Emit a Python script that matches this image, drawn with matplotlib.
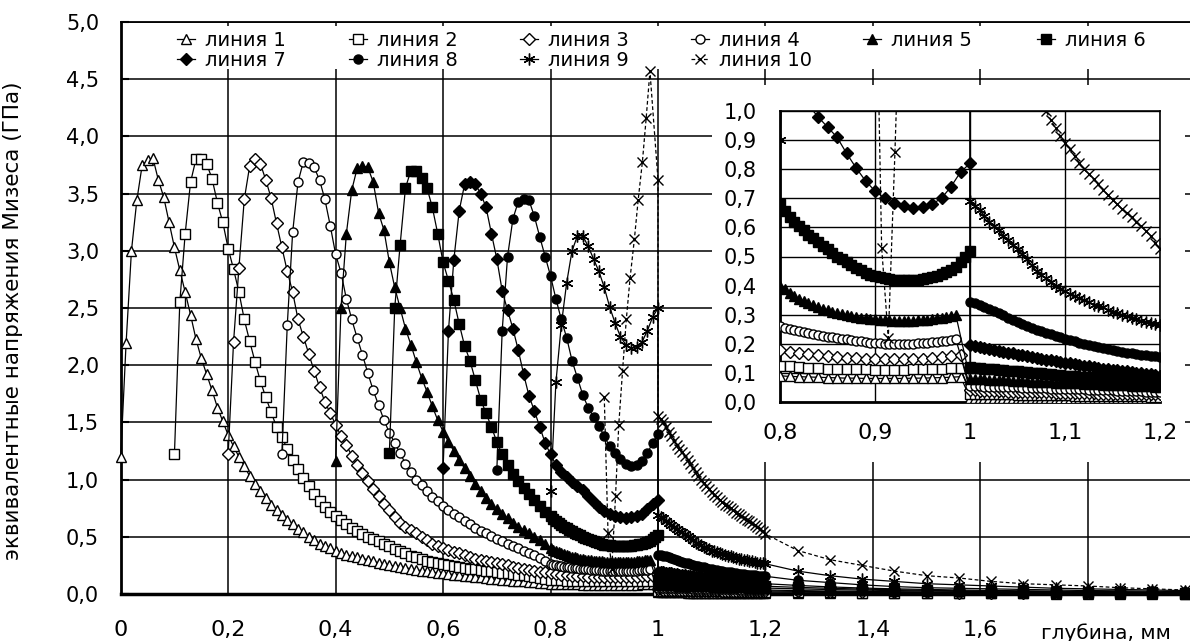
import numpy as np
import matplotlib
matplotlib.use('Agg')
import matplotlib.pyplot as plt
from matplotlib.patches import Rectangle

W, H = 1190, 641

# lines 1..9: first depth of each, then one value every 0.01 mm
starts = [0.0, 0.1, 0.2, 0.3, 0.4, 0.5, 0.6, 0.7, 0.8]

line1 = [1.20, 2.19, 3.00, 3.44, 3.75, 3.79, 3.81, 3.62, 3.47, 3.25,
         3.03, 2.83, 2.64, 2.44, 2.23, 2.06, 1.92, 1.78, 1.63, 1.51,
         1.39, 1.29, 1.20, 1.12, 1.03, 0.96, 0.90, 0.84, 0.78, 0.73,
         0.69, 0.65, 0.61, 0.57, 0.54, 0.50, 0.47, 0.44, 0.42, 0.40,
         0.38, 0.36, 0.345, 0.33, 0.32, 0.31, 0.30, 0.285, 0.27, 0.26,
         0.25, 0.245, 0.24, 0.23, 0.22, 0.21, 0.205, 0.20, 0.19, 0.185,
         0.18, 0.175, 0.17, 0.165, 0.16, 0.155, 0.15, 0.145, 0.14, 0.135,
         0.13, 0.126, 0.122, 0.118, 0.114, 0.11, 0.106, 0.102, 0.098, 0.094,
         0.09, 0.088, 0.087, 0.086, 0.085, 0.084, 0.083, 0.082, 0.082, 0.081,
         0.081, 0.081, 0.081, 0.081, 0.082, 0.082, 0.083, 0.084, 0.085, 0.087]
line2 = [1.22, 2.55, 3.15, 3.60, 3.80, 3.80, 3.76, 3.63, 3.42, 3.25,
         3.02, 2.84, 2.64, 2.40, 2.21, 2.03, 1.86, 1.72, 1.59, 1.46,
         1.37, 1.27, 1.17, 1.09, 1.01, 0.94, 0.87, 0.81, 0.76, 0.72,
         0.68, 0.645, 0.61, 0.58, 0.55, 0.525, 0.50, 0.48, 0.46, 0.44,
         0.42, 0.395, 0.375, 0.355, 0.335, 0.32, 0.305, 0.29, 0.28, 0.27,
         0.26, 0.25, 0.242, 0.235, 0.228, 0.222, 0.216, 0.21, 0.204, 0.198,
         0.192, 0.186, 0.18, 0.174, 0.168, 0.162, 0.156, 0.15, 0.142, 0.134,
         0.125, 0.122, 0.12, 0.118, 0.116, 0.115, 0.114, 0.113, 0.112, 0.112,
         0.111, 0.111, 0.111, 0.111, 0.112, 0.112, 0.113, 0.114, 0.116, 0.118]
line3 = [1.22, 2.20, 2.85, 3.45, 3.74, 3.80, 3.76, 3.62, 3.46, 3.24,
         3.03, 2.82, 2.64, 2.40, 2.25, 2.10, 1.95, 1.81, 1.68, 1.58,
         1.48, 1.38, 1.30, 1.21, 1.13, 1.06, 0.99, 0.92, 0.86, 0.79,
         0.73, 0.67, 0.62, 0.59, 0.56, 0.53, 0.50, 0.47, 0.44, 0.42,
         0.40, 0.385, 0.37, 0.355, 0.34, 0.325, 0.31, 0.30, 0.29, 0.28,
         0.27, 0.26, 0.25, 0.24, 0.23, 0.22, 0.21, 0.203, 0.196, 0.188,
         0.18, 0.173, 0.168, 0.164, 0.16, 0.157, 0.154, 0.152, 0.15, 0.149,
         0.148, 0.147, 0.147, 0.147, 0.148, 0.149, 0.151, 0.154, 0.157, 0.16]
line4 = [1.22, 2.35, 3.16, 3.60, 3.78, 3.77, 3.73, 3.62, 3.45, 3.22,
         2.97, 2.81, 2.58, 2.40, 2.24, 2.09, 1.93, 1.78, 1.65, 1.52,
         1.41, 1.32, 1.23, 1.14, 1.07, 1.00, 0.95, 0.90, 0.85, 0.81,
         0.77, 0.73, 0.70, 0.67, 0.64, 0.61, 0.58, 0.555, 0.53, 0.505,
         0.48, 0.46, 0.44, 0.42, 0.40, 0.38, 0.36, 0.34, 0.315, 0.29,
         0.262]
line5 = [1.16, 2.50, 3.15, 3.53, 3.72, 3.74, 3.73, 3.60, 3.33, 3.18,
         2.90, 2.68, 2.50, 2.32, 2.18, 2.03, 1.89, 1.77, 1.64, 1.52,
         1.42, 1.33, 1.25, 1.17, 1.10, 1.03, 0.96, 0.90, 0.84, 0.79,
         0.74, 0.70, 0.66, 0.62, 0.59, 0.56, 0.53, 0.50, 0.47, 0.44,
         0.40]
line6 = [1.23, 2.50, 3.05, 3.55, 3.70, 3.70, 3.64, 3.55, 3.38, 3.15,
         2.90, 2.74, 2.57, 2.36, 2.17, 2.04, 1.87, 1.70, 1.58, 1.46,
         1.33, 1.22, 1.13, 1.05, 0.99, 0.93, 0.87, 0.82, 0.77, 0.72,
         0.68]
line7 = [1.10, 2.30, 2.92, 3.35, 3.58, 3.60, 3.58, 3.50, 3.38, 3.15,
         2.93, 2.65, 2.48, 2.32, 2.13, 1.92, 1.73, 1.60, 1.46, 1.32,
         1.22, 1.13, 1.07, 1.02, 0.98, 0.945, 0.91, 0.855, 0.805, 0.76,
         0.725, 0.70, 0.685, 0.672, 0.668, 0.67, 0.68, 0.70, 0.74, 0.79,
         0.82]
line8 = [1.08, 2.30, 2.95, 3.28, 3.43, 3.45, 3.44, 3.30, 3.12, 2.95,
         2.78, 2.58, 2.40, 2.24, 2.04, 1.89, 1.74, 1.63, 1.55, 1.47,
         1.38, 1.29, 1.23, 1.18, 1.14, 1.12, 1.13, 1.16, 1.23, 1.32,
         1.40]
line9 = [0.90, 1.85, 2.35, 2.72, 3.00, 3.13, 3.13, 3.04, 2.93, 2.82,
         2.68, 2.51, 2.37, 2.25, 2.18, 2.15, 2.16, 2.20, 2.30, 2.42,
         2.50]

# lines 4-6 are sampled every 0.005 mm after 0.80 mm
line4_fine = [0.256, 0.25, 0.246, 0.243, 0.24, 0.237, 0.234, 0.231, 0.228, 0.225,
              0.222, 0.22, 0.217, 0.215, 0.212, 0.21, 0.208, 0.206, 0.204, 0.203,
              0.202, 0.201, 0.20, 0.20, 0.20, 0.20, 0.20, 0.201, 0.202, 0.203,
              0.204, 0.205, 0.206, 0.208, 0.21, 0.212, 0.215]
line5_fine = [0.387, 0.375, 0.365, 0.355, 0.347, 0.34, 0.332, 0.325, 0.32, 0.315,
              0.31, 0.305, 0.301, 0.298, 0.295, 0.292, 0.29, 0.287, 0.285, 0.284,
              0.283, 0.282, 0.281, 0.28, 0.28, 0.28, 0.28, 0.28, 0.281, 0.282,
              0.283, 0.285, 0.287, 0.29, 0.293, 0.297, 0.30]
line6_fine = [0.655, 0.635, 0.62, 0.605, 0.59, 0.575, 0.562, 0.55, 0.537, 0.525,
              0.512, 0.50, 0.49, 0.48, 0.47, 0.46, 0.452, 0.445, 0.438, 0.432,
              0.428, 0.425, 0.422, 0.42, 0.419, 0.418, 0.418, 0.418, 0.42, 0.422,
              0.425, 0.428, 0.433, 0.44, 0.447, 0.455, 0.465, 0.48, 0.50, 0.52]

line10_x = [0.900, 0.907, 0.914, 0.921, 0.927, 0.934, 0.941, 0.948,
            0.956, 0.963, 0.971, 0.978, 0.985, 1.000]
line10 = [1.72, 0.53, 0.22, 0.86, 1.48, 1.95, 2.40, 2.76,
          3.10, 3.44, 3.78, 4.16, 4.57, 3.62]

# substrate side: every 0.005 mm from 1.00 to 1.20, then every 0.06 mm
tail_dense = np.round(1.0 + 0.005 * np.arange(41), 3)
tail_sparse = np.round(1.26 + 0.06 * np.arange(13), 3)
tail_x = np.concatenate([tail_dense, tail_sparse])

tail1 = [0.015, 0.015, 0.015, 0.015, 0.015, 0.014, 0.014, 0.014, 0.014, 0.014,
         0.014, 0.013, 0.013, 0.013, 0.013, 0.013, 0.013, 0.013, 0.012, 0.012,
         0.012, 0.012, 0.012, 0.012, 0.012, 0.011, 0.011, 0.011, 0.011, 0.011,
         0.011, 0.011, 0.011, 0.010, 0.010, 0.010, 0.010, 0.010, 0.010, 0.010,
         0.010,
         0.009, 0.008, 0.007, 0.007, 0.006, 0.006, 0.005, 0.005, 0.004, 0.004,
         0.004, 0.003, 0.003]
tail2 = [0.028, 0.028, 0.028, 0.027, 0.027, 0.027, 0.027, 0.026, 0.026, 0.026,
         0.025, 0.025, 0.025, 0.025, 0.024, 0.024, 0.024, 0.024, 0.023, 0.023,
         0.023, 0.023, 0.022, 0.022, 0.022, 0.022, 0.021, 0.021, 0.021, 0.021,
         0.020, 0.020, 0.020, 0.020, 0.019, 0.019, 0.019, 0.019, 0.018, 0.018,
         0.018,
         0.016, 0.014, 0.012, 0.011, 0.010, 0.009, 0.008, 0.007, 0.006, 0.006,
         0.005, 0.005, 0.004]
tail3 = [0.040, 0.040, 0.039, 0.039, 0.038, 0.038, 0.037, 0.037, 0.036, 0.036,
         0.036, 0.035, 0.035, 0.034, 0.034, 0.034, 0.033, 0.033, 0.032, 0.032,
         0.032, 0.031, 0.031, 0.031, 0.030, 0.030, 0.030, 0.029, 0.029, 0.029,
         0.029, 0.028, 0.028, 0.028, 0.028, 0.027, 0.027, 0.027, 0.027, 0.027,
         0.027,
         0.023, 0.020, 0.018, 0.016, 0.014, 0.012, 0.011, 0.010, 0.009, 0.008,
         0.007, 0.006, 0.005]
tail4 = [0.055, 0.054, 0.054, 0.053, 0.053, 0.052, 0.052, 0.051, 0.051, 0.050,
         0.050, 0.049, 0.049, 0.048, 0.048, 0.047, 0.047, 0.046, 0.046, 0.045,
         0.045, 0.044, 0.044, 0.043, 0.043, 0.042, 0.042, 0.041, 0.041, 0.040,
         0.040, 0.039, 0.039, 0.038, 0.038, 0.037, 0.037, 0.036, 0.036, 0.035,
         0.035,
         0.030, 0.026, 0.023, 0.020, 0.018, 0.016, 0.014, 0.012, 0.011, 0.010,
         0.009, 0.008, 0.007]
tail5 = [0.080, 0.079, 0.079, 0.078, 0.077, 0.076, 0.076, 0.075, 0.074, 0.073,
         0.073, 0.072, 0.071, 0.070, 0.070, 0.069, 0.068, 0.068, 0.067, 0.066,
         0.066, 0.065, 0.064, 0.064, 0.063, 0.062, 0.062, 0.061, 0.060, 0.060,
         0.059, 0.058, 0.058, 0.057, 0.056, 0.056, 0.055, 0.054, 0.054, 0.053,
         0.052,
         0.045, 0.039, 0.034, 0.030, 0.026, 0.023, 0.020, 0.018, 0.016, 0.014,
         0.012, 0.011, 0.010]
tail6 = [0.120, 0.118, 0.117, 0.115, 0.114, 0.112, 0.111, 0.109, 0.108, 0.107,
         0.105, 0.104, 0.102, 0.101, 0.099, 0.098, 0.097, 0.095, 0.094, 0.093,
         0.091, 0.090, 0.089, 0.087, 0.086, 0.085, 0.084, 0.082, 0.081, 0.080,
         0.079, 0.078, 0.077, 0.076, 0.075, 0.074, 0.073, 0.072, 0.071, 0.070,
         0.068,
         0.058, 0.050, 0.043, 0.037, 0.032, 0.028, 0.025, 0.022, 0.020, 0.018,
         0.016, 0.014, 0.012]
tail7 = [0.195, 0.192, 0.190, 0.187, 0.183, 0.180, 0.176, 0.173, 0.170, 0.167,
         0.163, 0.160, 0.157, 0.154, 0.151, 0.148, 0.145, 0.143, 0.140, 0.138,
         0.135, 0.133, 0.130, 0.128, 0.125, 0.123, 0.120, 0.118, 0.115, 0.113,
         0.111, 0.109, 0.107, 0.105, 0.103, 0.101, 0.099, 0.097, 0.095, 0.093,
         0.090,
         0.075, 0.062, 0.052, 0.045, 0.040, 0.035, 0.031, 0.028, 0.025, 0.022,
         0.020, 0.018, 0.016]
tail8 = [0.345, 0.340, 0.335, 0.328, 0.320, 0.313, 0.305, 0.298, 0.290, 0.283,
         0.275, 0.268, 0.260, 0.254, 0.248, 0.243, 0.237, 0.232, 0.227, 0.222,
         0.217, 0.213, 0.208, 0.204, 0.200, 0.196, 0.192, 0.189, 0.185, 0.182,
         0.178, 0.175, 0.172, 0.170, 0.167, 0.165, 0.162, 0.160, 0.158, 0.157,
         0.155,
         0.120, 0.100, 0.080, 0.065, 0.055, 0.050, 0.045, 0.040, 0.035, 0.030,
         0.028, 0.025, 0.020]
tail9 = [0.690, 0.675, 0.660, 0.640, 0.620, 0.605, 0.590, 0.572, 0.555, 0.540,
         0.525, 0.508, 0.490, 0.470, 0.450, 0.437, 0.425, 0.412, 0.400, 0.390,
         0.380, 0.372, 0.365, 0.357, 0.350, 0.342, 0.335, 0.330, 0.325, 0.317,
         0.310, 0.305, 0.300, 0.295, 0.290, 0.285, 0.280, 0.275, 0.270, 0.267,
         0.264,
         0.200, 0.160, 0.130, 0.110, 0.090, 0.080, 0.070, 0.060, 0.050, 0.045,
         0.040, 0.035, 0.030]
tail10 = [1.560, 1.530, 1.500, 1.460, 1.420, 1.380, 1.340, 1.305, 1.270, 1.240,
          1.210, 1.175, 1.140, 1.105, 1.070, 1.035, 1.000, 0.970, 0.940, 0.915,
          0.890, 0.868, 0.845, 0.822, 0.800, 0.782, 0.765, 0.748, 0.730, 0.712,
          0.695, 0.679, 0.663, 0.649, 0.635, 0.620, 0.605, 0.588, 0.570, 0.548,
          0.525,
          0.380, 0.300, 0.250, 0.200, 0.160, 0.140, 0.110, 0.090, 0.080, 0.070,
          0.055, 0.045, 0.035]

labels = ['линия %d' % i for i in range(1, 11)]
main_x_ticks = [0, 0.2, 0.4, 0.6, 0.8, 1.0, 1.2, 1.4, 1.6, 1.8]
main_x_labels = ['0', '0,2', '0,4', '0,6', '0,8', '1', '1,2', '1,4', '1,6', '']
main_y_ticks = [0, 0.5, 1.0, 1.5, 2.0, 2.5, 3.0, 3.5, 4.0, 4.5, 5.0]
inset_x_ticks = [0.8, 0.9, 1.0, 1.1, 1.2]
inset_x_labels = ['0,8', '0,9', '1', '1,1', '1,2']
inset_y_ticks = [0, 0.1, 0.2, 0.3, 0.4, 0.5, 0.6, 0.7, 0.8, 0.9, 1.0]

pres = [line1, line2, line3, line4, line5, line6, line7, line8, line9]
fines = {3: line4_fine, 4: line5_fine, 5: line6_fine}
tails = [tail1, tail2, tail3, tail4, tail5, tail6, tail7, tail8, tail9, tail10]

series = []
for i, (x0, ys) in enumerate(zip(starts, pres)):
    xs = np.round(x0 + 0.01 * np.arange(len(ys)), 3)
    if i in fines:
        f = fines[i]
        xs = np.concatenate([xs, np.round(0.805 + 0.005 * np.arange(len(f)), 3)])
        ys = list(ys) + list(f)
    series.append((xs, np.array(ys)))
series.append((np.array(line10_x), np.array(line10)))
for t in tails:
    assert len(t) == len(tail_x)
series = [(np.concatenate([xs, tail_x]), np.concatenate([ys, t]))
          for (xs, ys), t in zip(series, tails)]

asterisk = (6, 2, 0)
styles = [
    dict(marker='^', ms=7, mfc='white'),
    dict(marker='s', ms=6.5, mfc='white'),
    dict(marker='D', ms=6, mfc='white'),
    dict(marker='o', ms=6.5, mfc='white'),
    dict(marker='^', ms=7.5, mfc='black'),
    dict(marker='s', ms=6.5, mfc='black'),
    dict(marker='D', ms=6.5, mfc='black'),
    dict(marker='o', ms=6.5, mfc='black'),
    dict(marker=asterisk, ms=8.5, mfc='black'),
    dict(marker='x', ms=7, mfc='black', ls=(0, (3, 2))),
]


def fx(px):
    return px / W


def fy(py):
    return 1 - py / H


def comma(v):
    return ('%.1f' % v).replace('.', ',')


fig = plt.figure(figsize=(W / 100, H / 100), dpi=100)

ax = fig.add_axes([fx(120.7), fy(594), fx(1190 - 120.7), (594 - 22) / H])
ax.set_zorder(0)
handles = []
for (xs, ys), st, lab in zip(series, styles, labels):
    st = dict(st)
    ls = st.pop('ls', '-')
    h, = ax.plot(xs, ys, color='black', lw=0.9, ls=ls, mec='black', mew=1.0,
                 label=lab, clip_on=False, zorder=3, **st)
    handles.append(h)

ax.set_xlim(0, (1190 - 120.7) / 537.3)
ax.set_ylim(0, 5)
ax.set_xticks(main_x_ticks)
ax.set_xticklabels(main_x_labels)
ax.set_yticks(main_y_ticks)
ax.set_yticklabels([comma(v) for v in main_y_ticks])
ax.grid(True, color='black', lw=1.1)
ax.tick_params(axis='x', length=0, pad=19, labelsize=16)
ax.tick_params(axis='y', direction='in', length=6, width=1.5, pad=15.5, labelsize=15)
ax.tick_params(axis='x', top=True, direction='in')
ax.spines['top'].set_linewidth(1.3)
ax.spines['left'].set_linewidth(2)
ax.spines['bottom'].set_linewidth(2.5)
ax.spines['right'].set_visible(False)

ax.set_ylabel('эквивалентные напряжения Мизеса (ГПа)', fontsize=15.5)
ax.yaxis.set_label_coords((23 - 120.7) / (1190 - 120.7), (594 - 321) / 572)
fig.text(fx(1041), fy(633), 'глубина, мм', fontsize=14.5, ha='left', va='center')

# legend: white strip over the grid, one small legend per column
ax.add_patch(Rectangle((fx(124), fy(69)), (1189 - 124) / W, (69 - 26) / H,
                       transform=fig.transFigure, facecolor='white',
                       edgecolor='none', zorder=2, clip_on=False))
col_x = [186, 358, 529, 700, 872, 1046]
columns = [[0, 6], [1, 7], [2, 8], [3, 9], [4], [5]]
hl = 0.9
for cx, idx in zip(col_x, columns):
    lg = fig.legend([handles[i] for i in idx], [labels[i] for i in idx],
                    loc='upper left', bbox_to_anchor=(fx(cx - 8.8), fy(30.5)),
                    fontsize=14, frameon=False, borderpad=0, borderaxespad=0,
                    handlelength=hl, handletextpad=0.55, labelspacing=0.08,
                    numpoints=1)
    lg.set_zorder(5)

# white panel behind the inset
fig.patches.append(Rectangle((fx(712), fy(462)), (1185 - 712) / W, (462 - 85) / H,
                             transform=fig.transFigure, facecolor='white',
                             edgecolor='none', zorder=1))

axi = fig.add_axes([fx(780), fy(402), (1160 - 780) / W, (402 - 111) / H])
axi.set_zorder(2)
for (xs, ys), st in zip(series, styles):
    st = dict(st)
    ls = st.pop('ls', '-')
    axi.plot(xs, ys, color='black', lw=0.9, ls=ls, mec='black', mew=1.0,
             zorder=3, **st)
axi.set_xlim(0.8, 1.2)
axi.set_ylim(0, 1)
axi.set_xticks(inset_x_ticks)
axi.set_xticklabels(inset_x_labels)
axi.set_yticks(inset_y_ticks)
axi.set_yticklabels([comma(v) for v in inset_y_ticks])
axi.grid(True, color='black', lw=1.0)
axi.tick_params(axis='x', length=0, pad=15, labelsize=16)
axi.tick_params(axis='y', length=0, pad=16.5, labelsize=15)
axi.spines['left'].set_linewidth(2)
axi.spines['bottom'].set_linewidth(2)
axi.spines['top'].set_linewidth(1.2)
axi.spines['right'].set_linewidth(1.2)

fig.savefig('out.png', dpi=100)
